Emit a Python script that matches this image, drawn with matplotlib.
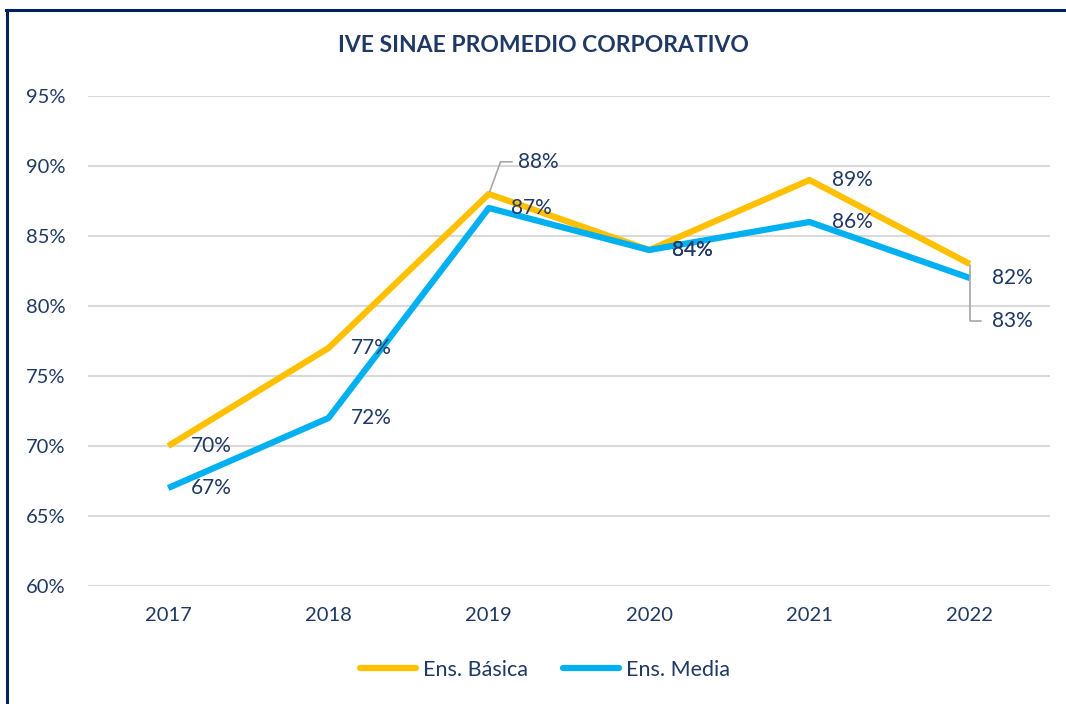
import matplotlib
matplotlib.use("Agg")
import matplotlib.pyplot as plt
from matplotlib.lines import Line2D

years = ["2017", "2018", "2019", "2020", "2021", "2022"]
basica = [70, 77, 88, 84, 89, 83]
media = [67, 72, 87, 84, 86, 82]
yticks = [60, 65, 70, 75, 80, 85, 90, 95]
series_names = ["Ens. Básica", "Ens. Media"]
title = "IVE SINAE PROMEDIO CORPORATIVO"

GOLD = "#FFC000"
BLUE = "#00B0F0"
NAVY = "#1F3864"
GRID = "#D9D9D9"

plt.rcParams['font.family'] = ['Lato', 'DejaVu Sans']

fig = plt.figure(figsize=(10.66, 7.04), dpi=100)
ax = fig.add_axes([88/1066, 118/704, (1050-88)/1066, (586-96)/704])

x = list(range(len(years)))
ax.plot(x, basica, color=GOLD, lw=4.5, solid_capstyle='butt', zorder=3)
ax.plot(x, media, color=BLUE, lw=4.5, solid_capstyle='butt', zorder=4)

ax.set_xlim(-0.5, len(years) - 0.5)
ax.set_ylim(60, 95)
ax.set_yticks(yticks)
ax.set_yticklabels([f"{v}%" for v in yticks])
ax.set_xticks(x)
ax.set_xticklabels(years)
ax.tick_params(axis='both', length=0, labelsize=14.5, colors=NAVY)
ax.tick_params(axis='y', pad=16)
ax.tick_params(axis='x', pad=15)
ax.grid(axis='y', color=GRID, lw=1.5)
ax.set_axisbelow(True)
for s in ax.spines.values():
    s.set_visible(False)

lab = dict(fontsize=15, color=NAVY, va='center', ha='left', zorder=6)
for i in range(len(years)):
    b, m = basica[i], media[i]
    if i == 2:
        ax.annotate(f"{b}%", xy=(i, b), xytext=(i + 0.18, b + 2.3),
                    arrowprops=dict(arrowstyle='-', color='#A6A6A6', lw=1.2,
                                    connectionstyle='angle,angleA=0,angleB=70,rad=0',
                                    shrinkA=2, shrinkB=2), **lab)
        ax.text(i + 0.14, m, f"{m}%", **lab)
    elif i == 5:
        ax.annotate(f"{b}%", xy=(i, b), xytext=(i + 0.14, b - 4.1),
                    arrowprops=dict(arrowstyle='-', color='#A6A6A6', lw=1.2,
                                    connectionstyle='angle,angleA=0,angleB=90,rad=0',
                                    shrinkA=6, shrinkB=1), **lab)
        ax.text(i + 0.14, m, f"{m}%", **lab)
    else:
        ax.text(i + 0.14, b, f"{b}%", **lab)
        ax.text(i + 0.14, m, f"{m}%", **lab)

fig.text(543/1066, 1 - 46/704, title, ha='center', va='center', fontsize=16.5,
         fontweight='bold', color=NAVY)

handles = [Line2D([], [], color=GOLD, lw=4.5, solid_capstyle='round'),
           Line2D([], [], color=BLUE, lw=4.5, solid_capstyle='round')]
fig.legend(handles, series_names, loc='center', bbox_to_anchor=(545/1066, 1 - 670/704),
           ncol=2, frameon=False, fontsize=15.5, labelcolor=NAVY,
           handlelength=2.6, handletextpad=0.35, columnspacing=1.6)

fig.add_artist(Line2D([7/1066, 7/1066], [0, 1 - 10/704], color="#002060", lw=2.2,
                      transform=fig.transFigure))
fig.add_artist(Line2D([6/1066, 1], [1 - 10/704, 1 - 10/704], color="#002060", lw=2.2,
                      transform=fig.transFigure))

fig.savefig("out.png", dpi=100)
